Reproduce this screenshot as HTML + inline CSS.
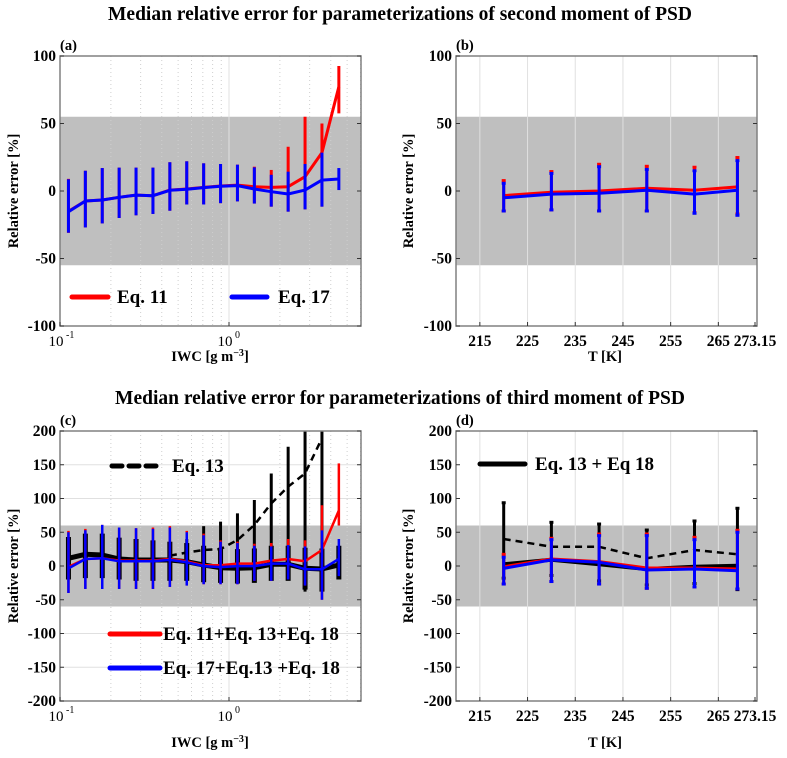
<!DOCTYPE html>
<html><head><meta charset="utf-8"><style>
body{margin:0;background:#fff}
svg{display:block;font-family:"Liberation Serif",serif;font-weight:bold}
</style></head><body>
<svg id="fig" width="787" height="758" viewBox="0 0 787 758">
<text x="400" y="20" text-anchor="middle" font-size="19.5">Median relative error for parameterizations of second moment of PSD</text>
<text x="400" y="404" text-anchor="middle" font-size="19.5">Median relative error for parameterizations of third moment of PSD</text>
</svg>
<script>
// ---- data ----
const iwcLog = [-0.95,-0.85,-0.75,-0.65,-0.55,-0.45,-0.35,-0.25,-0.15,-0.05,0.05,0.15,0.25,0.35,0.45,0.55,0.65];
const aRed = [-15,-7.4,-6.7,-4.7,-3,-3.5,0.7,1.5,2.7,3.7,4.4,3.2,2.7,3.2,10.6,28.4,77];
const aRedHi = [9,15,17,17.3,17.3,17.3,21.3,22,20.5,20,19.5,18,15.6,32.8,55,50,92.6];
const aRedLo = [-31,-27,-24,-20,-18,-17,-14.6,-10,-10,-9,-7.7,-9.3,-11.6,-15.3,-13.6,-11.6,57.5];
const aBlue = [-15.3,-7.4,-6.7,-4.7,-3,-3.5,0.5,1.3,2.5,3.5,4,1.5,-0.5,-2.2,0.7,8.1,8.9];
const aBlueHi = [8.7,15,17,17.3,17.3,17.3,21.3,22,20.5,20,19.5,17.5,12,14.3,20,28.4,17];
const aBlueLo = [-30.9,-27,-24,-20,-18,-17,-14.6,-10,-10,-9,-7.7,-9.3,-11.6,-15.3,-13.6,-11.6,0.7];

const tempK = [220,230,240,250,260,269];
const bRed = [-3.4,-1,0,2,0.5,3];
const bRedHi = [7.7,14.4,19.8,18.3,17.6,24.8];
const bRedLo = [-14.8,-14,-14.8,-14.8,-16,-17];
const bBlue = [-5,-2.3,-1.6,0.5,-2.3,0.5];
const bBlueHi = [5.7,13,18,16,15,22.5];
const bBlueLo = [-14.8,-14,-14.8,-14.8,-16.5,-18];

const cBlack = [11.4,17.3,16.3,10.4,8.9,8.9,8.9,6.4,1.5,-2.5,-3.4,-2.5,2.5,2.5,-3.4,-4.4,1.5];
const cBlackHi = [43,48,48,42,40,38,36,34,30,27,25,26,30,30,27,26,30];
const cBlackLo = [-20,-18,-18,-20,-22,-22,-22,-22,-24,-25,-26,-25,-22,-22,-35,-38,-20];
const cDash = [null,null,null,null,null,null,15.3,20,23.7,25.2,38.5,60.7,92.8,117.5,137,189,null];
const cDashHi = [null,null,null,null,null,null,30,40,59,65.7,78,97.8,137,176.7,220,220,null];
const cDashLo = [null,null,null,null,null,null,-10,-10,-10,-10,-5,10,20,20,-38,-38,null];
const cRed = [-1,10.4,11.4,8,8,8,10.4,6.9,1,1,3.5,3.5,8,10.4,6.9,23.7,82];
const cRedHi = [52,55,61,57,56,57,59,52,48,38,36,33,34,40,38,90,152];
const cRedLo = [-40,-34,-34,-34,-34,-34,-31,-29,-27,-27,-27,-22,-22,-20,-29,-50,60];
const cBlue = [-3.5,10.4,11.4,7,7,7,9,5.5,-0.1,-1.6,-0.1,-0.1,3.5,3.5,-4.9,-4.9,10.4];
const cBlueHi = [50,53,61,57,56,55,57,50,45.5,36,34,30,29,31,29,52.7,40];
const cBlueLo = [-40,-34,-34,-34,-34,-34,-31,-29,-27,-27,-27,-22,-22,-20,-29,-50,-15];

const dDash = [40,28.6,28.4,11.4,23.7,17.3];
const dBlack = [2.5,9.4,2.5,-4.4,-1,0.5];
const dBlackHi = [93.7,64.7,62.2,53.3,66.7,85.5];
const dBlackLo = [-18,-14,-22,-28,-26,-35];
const dRed = [-1,10.4,6.5,-3,-3,-4.4];
const dRedHi = [17.3,41,47.4,47.4,42.5,52.9];
const dRedLo = [-26.7,-23,-26.7,-33,-31,-34];
const dBlue = [-3.5,9,5.5,-6,-4.4,-7];
const dBlueHi = [13,39,45,45,39,50];
const dBlueLo = [-26.7,-23,-26.7,-33,-31,-34];

const yTicksA = [-100,-50,0,50,100];
const yTicksC = [-200,-150,-100,-50,0,50,100,150,200];
const tTicks = [215,225,235,245,255,265,273.15];
const tTickLabels = ['215','225','235','245','255','265','273.15'];

// ---- drawing ----
const NS='http://www.w3.org/2000/svg';
const svg=document.getElementById('fig');
function el(tag,attrs,parent){const e=document.createElementNS(NS,tag);for(const k in attrs)e.setAttribute(k,attrs[k]);(parent||svg).appendChild(e);return e;}

function panel(o){
  const g=el('g',{});
  
  
  const band=el('rect',{x:o.x0,y:o.Y(o.band),width:o.x1-o.x0,height:o.Y(-o.band)-o.Y(o.band),fill:'#bfbfbf'},g);
  
  
  o.grid(g);
  return g;
}
function frame(g,o){
  const f=el('rect',{x:o.x0,y:o.y0,width:o.x1-o.x0,height:o.y1-o.y0,fill:'none',stroke:'#808080','stroke-width':1.5},g);
  
  
}
function yAxis(g,o,ticks){
  ticks.forEach(t=>{
    const y=o.Y(t);
    el('line',{x1:o.x0,x2:o.x0+4,y1:y,y2:y,stroke:'#333'},g);
    el('line',{x1:o.x1,x2:o.x1-4,y1:y,y2:y,stroke:'#333'},g);
    const tx=el('text',{x:o.x0-4,y:y+5,'text-anchor':'end','font-size':15.5},g);
    tx.textContent=t;
    
    
  });
  const lab=el('text',{x:0,y:0,'text-anchor':'middle','font-size':14.5,transform:`translate(${o.ylabX},${(o.y0+o.y1)/2}) rotate(-90)`},g);
  lab.textContent='Relative error [%]';
  
  
  const pl=el('text',{x:o.x0,y:o.y0-6,'font-size':14.5},g);
  pl.textContent=o.label;
  
  
}
function series(g,o,xs,ys,hi,lo,color,w,bw,cap,dash,name){
  const sg=el('g',{},g);
  
  
  xs.forEach((x,i)=>{
    if(ys[i]==null||hi==null)return;
    const px=o.X(x);
    const y1=Math.max(o.y0,o.Y(hi[i])), y2=Math.min(o.y1,o.Y(lo[i]));
    const b=el('line',{x1:px,x2:px,y1:y1,y2:y2,stroke:color,'stroke-width':bw},sg);
    
    
    if(cap){
      if(o.Y(hi[i])>=o.y0) el('line',{x1:px-2,x2:px+2,y1:o.Y(hi[i]),y2:o.Y(hi[i]),stroke:color,'stroke-width':3},sg);
      el('line',{x1:px-2,x2:px+2,y1:o.Y(lo[i]),y2:o.Y(lo[i]),stroke:color,'stroke-width':3},sg);
    }
  });
  let d='';
  xs.forEach((x,i)=>{ if(ys[i]==null)return; d+=(d?'L':'M')+o.X(x).toFixed(1)+','+Math.max(o.y0,o.Y(ys[i])).toFixed(1); });
  const p=el('path',{d:d,fill:'none',stroke:color,'stroke-width':w,'stroke-linejoin':'round'},sg);
  if(dash)p.setAttribute('stroke-dasharray',dash);
  
  
}
function legend(g,x1,x2,y,color,w,dash,text,tx,fs){
  const lg=el('g',{},g);
  
  
  const l=el('line',{x1:x1,x2:x2,y1:y,y2:y,stroke:color,'stroke-width':w,'stroke-linecap':'round'},lg);
  if(dash)l.setAttribute('stroke-dasharray',dash);
  const t=el('text',{x:tx,y:y+6,'font-size':fs},lg);t.textContent=text;
}

function logPanel(name,label,y0,y1,ymin,ymax,band,yticks,ygrid){
  const o={x0:60,x1:361,y0:y0,y1:y1,label:label,ylabX:18,band:band};
  o.X=v=>60+(Math.log10(v)+1)*169;
  o.Y=v=>y0+(ymax-v)/(ymax-ymin)*(y1-y0);
  o.grid=g=>{
    const minors=[0.2,0.3,0.4,0.5,0.6,0.7,0.8,0.9,2,3,4,5,6];
    minors.forEach(m=>el('line',{x1:o.X(m),x2:o.X(m),y1:y0,y2:y1,stroke:'#cfcfcf','stroke-dasharray':'1,3'},g));
    el('line',{x1:o.X(1),x2:o.X(1),y1:y0,y2:y1,stroke:'#e0e0e0'},g);
    if(ygrid) yticks.forEach(t=>{ if(Math.abs(t)>band) el('line',{x1:60,x2:361,y1:o.Y(t),y2:o.Y(t),stroke:'#e0e0e0'},g);});
  };
  const g=panel(Object.assign(o,{name:name}));
  return [g,o];
}
function logAxis(g,o,yl){
  [[0.1,'10'],[1,'10']].forEach(([v,s])=>{
    const x=o.X(v);
    el('line',{x1:x,x2:x,y1:o.y1,y2:o.y1-4,stroke:'#333'},g);
    const t=el('text',{x:x-4,y:o.y1+20,'text-anchor':'middle','font-size':15,'font-weight':'normal'},g);
    t.textContent=s;
    
    
    const e=el('text',{x:x+6,y:o.y1+12,'font-size':10,'font-weight':'normal'},g);
    e.textContent=v===0.1?'-1':'0';
  });
  const xl=el('text',{x:210,y:yl,'text-anchor':'middle','font-size':14.5},g);
  xl.innerHTML='IWC [g m<tspan dy="-5" font-size="10">−3</tspan><tspan dy="5">]</tspan>';
  
  
}
function tPanel(name,label,y0,y1,ymin,ymax,band){
  const o={x0:456,x1:757,y0:y0,y1:y1,label:label,ylabX:413,band:band,name:name};
  o.X=v=>456+(v-210)*4.77;
  o.Y=v=>y0+(ymax-v)/(ymax-ymin)*(y1-y0);
  o.grid=g=>{ tTicks.slice(0,6).forEach(t=>el('line',{x1:o.X(t),x2:o.X(t),y1:y0,y2:y1,stroke:'#e0e0e0'},g)); };
  const g=panel(o);
  return [g,o];
}
function tAxis(g,o,yl){
  tTicks.forEach((t,i)=>{
    const x=Math.min(o.X(t),o.x1-2);
    el('line',{x1:x,x2:x,y1:o.y1,y2:o.y1-4,stroke:'#333'},g);
    const tx=el('text',{x:x,y:o.y1+20,'text-anchor':'middle','font-size':15.5},g);
    tx.textContent=tTickLabels[i];
    
    
  });
  const xl=el('text',{x:605,y:yl,'text-anchor':'middle','font-size':14.5},g);
  xl.textContent='T [K]';
  
  
}
const iwc=iwcLog.map(v=>Math.pow(10,v));

// (a)
let [ga,oa]=logPanel('panel-a','(a)',56,326,-100,100,55,yTicksA,false);
series(ga,oa,iwc,aRed,aRedHi,aRedLo,'#ff0000',3,3,false,null,'series-eq11');
series(ga,oa,iwc,aBlue,aBlueHi,aBlueLo,'#0000ff',3,3,false,null,'series-eq17');
legend(ga,72,108,297,'#ff0000',5,null,'Eq. 11',117,19);
legend(ga,232,267,297,'#0000ff',5,null,'Eq. 17',278,19);
frame(ga,oa); yAxis(ga,oa,yTicksA); logAxis(ga,oa,361);

// (b)
let [gb,ob]=tPanel('panel-b','(b)',56,326,-100,100,55);
series(gb,ob,tempK,bRed,bRedHi,bRedLo,'#ff0000',3,3,true,null,'series-eq11');
series(gb,ob,tempK,bBlue,bBlueHi,bBlueLo,'#0000ff',3,3,true,null,'series-eq17');
frame(gb,ob); yAxis(gb,ob,yTicksA); tAxis(gb,ob,361);

// (c)
let [gc,oc]=logPanel('panel-c','(c)',431,701,-200,200,60,yTicksC,true);
series(gc,oc,iwc,cDash,cDashHi,cDashLo,'#000',2.5,3,false,'7,5','series-eq13');
series(gc,oc,iwc,cBlack,cBlackHi,cBlackLo,'#000',5,5,false,null,'series-eq13-eq18');
series(gc,oc,iwc,cRed,cRedHi,cRedLo,'#ff0000',2.5,2.5,false,null,'series-eq11-13-18');
series(gc,oc,iwc,cBlue,cBlueHi,cBlueLo,'#0000ff',2.5,2.5,false,null,'series-eq17-13-18');
legend(gc,112,160,466,'#000',5,'10,7','Eq. 13',172,19);
legend(gc,110,160,634,'#ff0000',5,null,'Eq. 11+Eq. 13+Eq. 18',163,19);
legend(gc,110,160,668,'#0000ff',5,null,'Eq. 17+Eq.13 +Eq. 18',163,19);
frame(gc,oc); yAxis(gc,oc,yTicksC); logAxis(gc,oc,747);

// (d)
let [gd,od]=tPanel('panel-d','(d)',431,701,-200,200,60);
series(gd,od,tempK,dDash,null,null,'#000',2.5,3,false,'7,5','series-eq13');
series(gd,od,tempK,dBlack,dBlackHi,dBlackLo,'#000',4,3,true,null,'series-eq13-eq18');
series(gd,od,tempK,dRed,dRedHi,dRedLo,'#ff0000',3,3,true,null,'series-eq11-13-18');
series(gd,od,tempK,dBlue,dBlueHi,dBlueLo,'#0000ff',3,3,true,null,'series-eq17-13-18');
legend(gd,480,525,464,'#000',5,null,'Eq. 13 + Eq 18',535,19);
frame(gd,od); yAxis(gd,od,yTicksC); tAxis(gd,od,747);
</script>
</body></html>
